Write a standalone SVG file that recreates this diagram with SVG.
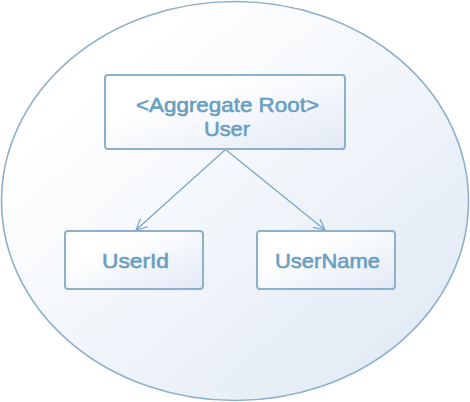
<svg xmlns="http://www.w3.org/2000/svg" width="470" height="402" viewBox="0 0 470 402">
<defs>
<linearGradient id="gEll" x1="0" y1="0" x2="1" y2="1">
<stop offset="0.2" stop-color="#ffffff"/>
<stop offset="1" stop-color="#dde7f3"/>
</linearGradient>
<linearGradient id="gBox" x1="0" y1="0" x2="1" y2="1">
<stop offset="0.3" stop-color="#ffffff"/>
<stop offset="1" stop-color="#e2eaf5"/>
</linearGradient>
<marker id="arr" markerWidth="14" markerHeight="14" refX="12" refY="6" orient="auto" markerUnits="userSpaceOnUse">
<path d="M1,0.5 L12,6 L1,11.5" fill="none" stroke="#7aa6c5" stroke-width="1.2"/>
</marker>
</defs>
<style>
.box{fill:url(#gBox);stroke:#8eb0cb;stroke-width:2}
.lbl{font-family:"Liberation Sans",Arial,sans-serif;font-size:21px;fill:#6a9ec1;stroke:#6a9ec1;stroke-width:0.6;text-anchor:middle}
.conn{stroke:#7aa6c5;stroke-width:1.3;fill:none}
</style>
<ellipse cx="235" cy="201" rx="233.5" ry="199.5" fill="url(#gEll)" stroke="#8eb0cb" stroke-width="1.6"/>
<g id="connectors">
<line class="conn" x1="225.5" y1="149.5" x2="136" y2="230" marker-end="url(#arr)"/>
<line class="conn" x1="225.5" y1="149.5" x2="325" y2="230" marker-end="url(#arr)"/>
</g>
<g id="node-user">
<rect class="box" x="105" y="75" width="240" height="74" rx="3"/>
<text class="lbl" x="227.5" y="112" textLength="183" lengthAdjust="spacingAndGlyphs">&lt;Aggregate Root&gt;</text>
<text class="lbl" x="227" y="136" textLength="46" lengthAdjust="spacingAndGlyphs">User</text>
</g>
<g id="node-userid">
<rect class="box" x="65" y="231" width="138" height="58" rx="3"/>
<text class="lbl" x="135.5" y="268" textLength="67" lengthAdjust="spacingAndGlyphs">UserId</text>
</g>
<g id="node-username">
<rect class="box" x="257" y="231" width="138" height="58" rx="3"/>
<text class="lbl" x="327.5" y="268" textLength="105" lengthAdjust="spacingAndGlyphs">UserName</text>
</g>
</svg>
